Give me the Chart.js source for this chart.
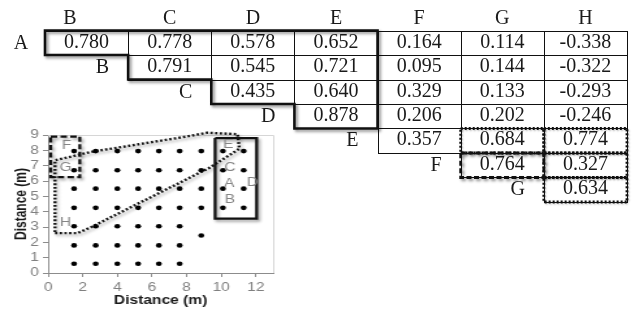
<!DOCTYPE html>
<html>
<head>
<meta charset="utf-8">
<script src="https://cdn.jsdelivr.net/npm/chart.js@4.4.0/dist/chart.umd.min.js"></script>
<style>
  html, body { margin: 0; padding: 0; background: #fff; }
  #wrap { position: relative; width: 633px; height: 312px; overflow: hidden; }
  #tableChart { position: absolute; left: 0; top: 0; }
  #mapChart { position: absolute; left: 0; top: 120px; }
</style>
</head>
<body>
<div id="wrap">
  <canvas id="tableChart" width="633" height="312"></canvas>
  <canvas id="mapChart" width="223" height="192" style="width:290px;height:192px"></canvas>
</div>
<script>
// correlation table (upper triangle)
const colLabels = ['B', 'C', 'D', 'E', 'F', 'G', 'H'];
const rowLabels = ['A', 'B', 'C', 'D', 'E', 'F', 'G'];
const rowA = [0.780, 0.778, 0.578, 0.652, 0.164, 0.114, -0.338];
const rowB = [0.791, 0.545, 0.721, 0.095, 0.144, -0.322];
const rowC = [0.435, 0.640, 0.329, 0.133, -0.293];
const rowD = [0.878, 0.206, 0.202, -0.246];
const rowE = [0.357, 0.684, 0.774];
const rowF = [0.764, 0.327];
const rowG = [0.634];
const corrRows = [rowA, rowB, rowC, rowD, rowE, rowF, rowG];

// sensor positions on the map (m)
const sensorX = [
  1.5, 2.75, 4.0, 5.2, 6.4, 7.6, 8.85, 10.1, 11.3,
  1.5, 2.75, 4.0, 5.2, 6.4, 7.6, 8.85, 10.1, 11.3,
  1.5, 2.75, 4.0, 5.2, 6.4, 7.6, 8.85, 10.1, 11.3,
  1.5, 2.75, 4.0, 5.2, 6.4, 7.6, 8.85, 10.1, 11.3,
  1.5, 2.75, 4.0, 5.2, 6.4, 7.6,
  8.85,
  1.5, 2.75, 4.0, 5.2, 6.4, 7.6,
  1.5, 2.75, 4.0, 5.2, 6.4, 7.6
];
const sensorY = [
  7.95, 7.95, 7.95, 7.95, 7.95, 7.95, 7.95, 7.95, 7.95,
  6.7, 6.7, 6.7, 6.7, 6.7, 6.7, 6.7, 6.7, 6.7,
  5.5, 5.5, 5.5, 5.5, 5.5, 5.5, 5.5, 5.5, 5.5,
  4.25, 4.25, 4.25, 4.25, 4.25, 4.25, 4.25, 4.25, 4.25,
  3.05, 3.05, 3.05, 3.05, 3.05, 3.05,
  2.45,
  1.8, 1.8, 1.8, 1.8, 1.8, 1.8,
  0.6, 0.6, 0.6, 0.6, 0.6, 0.6
];

// group labels on the map
const groupText = ['F', 'G', 'H', 'E', 'C', 'A', 'D', 'B'];
const groupX = [1.06, 1.0, 1.0, 10.4, 10.5, 10.46, 11.8, 10.5];
const groupY = [8.3, 6.9, 3.27, 8.35, 6.9, 5.8, 5.9, 4.75];

// group outlines on the map
const boxFGx = [0.15, 1.83, 1.83, 0.15, 0.15];
const boxFGy = [8.9, 8.9, 6.25, 6.25, 8.9];
const boxAEx = [9.65, 12.05, 12.05, 9.65, 9.65];
const boxAEy = [8.8, 8.8, 3.55, 3.55, 8.8];
const polyHx = [0.4, 1.7, 2.5, 9.3, 11.05, 10.95, 9.2, 8.0, 2.5, 0.4, 0.4];
const polyHy = [2.6, 2.6, 3.0, 6.85, 8.1, 9.05, 9.15, 8.9, 7.9, 7.35, 2.6];

const xAxisTicks = [0, 2, 4, 6, 8, 10, 12];

const toPoints = (xs, ys) => xs.map((v, i) => ({ x: v, y: ys[i] }));

const tablePlugin = {
  id: 'tablePlugin',
  afterDraw(chart) {
    const { ctx } = chart;
    const x = chart.scales.x, y = chart.scales.y;
    const X = v => x.getPixelForValue(v);
    const Y = v => y.getPixelForValue(v);
    const px = v => Math.round(X(v)) + 0.5;
    const py = v => Math.round(Y(v)) + 0.5;

    ctx.save();
    ctx.font = '20px "Liberation Serif", "Times New Roman", serif';
    ctx.fillStyle = '#1a1a1a';
    ctx.textBaseline = 'alphabetic';

    // column headers
    ctx.textAlign = 'center';
    colLabels.forEach((l, c) => {
      const hx = c === 0 ? 0.3 : c + 0.5;
      ctx.fillText(l, X(hx), Y(0) - 7);
    });

    // cells
    ctx.strokeStyle = '#111';
    ctx.lineWidth = 1;
    corrRows.forEach((vals, r) => {
      vals.forEach((v, k) => {
        const c = r + k;
        ctx.strokeRect(px(c), py(r), px(c + 1) - px(c), py(r + 1) - py(r));
        ctx.textAlign = 'center';
        ctx.fillText(v.toFixed(3), X(c + 0.5), Y(r + 1) - 7.5);
      });
      if (r === 0) {
        ctx.textAlign = 'center';
        ctx.fillText(rowLabels[r], X(0) - 24, Y(r + 1) - 6.5);
      } else {
        ctx.textAlign = 'right';
        ctx.fillText(rowLabels[r], X(r) - 19, Y(r + 1) - 6.5);
      }
    });

    // thick outline round the A-E block
    ctx.save();
    ctx.shadowColor = 'rgba(0,0,0,0.45)';
    ctx.shadowBlur = 3;
    ctx.shadowOffsetX = 2;
    ctx.shadowOffsetY = 2;
    ctx.lineWidth = 2.6;
    ctx.lineJoin = 'miter';
    ctx.beginPath();
    ctx.moveTo(X(0), Y(0));
    ctx.lineTo(X(4), Y(0));
    ctx.lineTo(X(4), Y(4));
    ctx.lineTo(X(3), Y(4));
    ctx.lineTo(X(3), Y(3));
    ctx.lineTo(X(2), Y(3));
    ctx.lineTo(X(2), Y(2));
    ctx.lineTo(X(1), Y(2));
    ctx.lineTo(X(1), Y(1));
    ctx.lineTo(X(0), Y(1));
    ctx.closePath();
    ctx.stroke();
    ctx.restore();

    // dotted cells (H group)
    ctx.save();
    ctx.lineWidth = 2.8;
    ctx.setLineDash([2, 2]);
    ctx.shadowColor = 'rgba(0,0,0,0.3)';
    ctx.shadowBlur = 2;
    ctx.shadowOffsetX = 1;
    ctx.shadowOffsetY = 1;
    [[4, 5], [4, 6], [5, 6], [6, 6]].forEach(([r, c]) => {
      ctx.strokeRect(X(c), Y(r), X(c + 1) - X(c), Y(r + 1) - Y(r));
    });
    ctx.restore();

    // dashed cell (F-G)
    ctx.save();
    ctx.lineWidth = 2.8;
    ctx.setLineDash([5, 2.5]);
    ctx.shadowColor = 'rgba(0,0,0,0.45)';
    ctx.shadowBlur = 3;
    ctx.shadowOffsetX = 2;
    ctx.shadowOffsetY = 2;
    ctx.strokeRect(X(5), Y(5), X(6) - X(5), Y(6) - Y(5));
    ctx.restore();

    ctx.restore();
  }
};

new Chart(document.getElementById('tableChart'), {
  type: 'scatter',
  data: { datasets: [] },
  options: {
    responsive: false,
    animation: false,
    devicePixelRatio: 1,
    events: [],
    layout: { padding: 0 },
    plugins: { legend: { display: false }, tooltip: { enabled: false } },
    scales: {
      x: { type: 'linear', display: false, min: -0.5413, max: 7.0724 },
      y: { type: 'linear', display: false, reverse: true, min: -1.2449, max: 11.4898 }
    }
  },
  plugins: [tablePlugin]
});

const mapPlugin = {
  id: 'mapPlugin',
  beforeDatasetDraw(chart, args) {
    const ds = chart.data.datasets[args.index];
    if (ds.shadow) {
      const ctx = chart.ctx;
      ctx.save();
      ctx.shadowColor = 'rgba(0,0,0,0.4)';
      ctx.shadowBlur = 3;
      ctx.shadowOffsetX = 1.5;
      ctx.shadowOffsetY = 2;
    }
  },
  afterDatasetDraw(chart, args) {
    const ds = chart.data.datasets[args.index];
    if (ds.shadow) chart.ctx.restore();
  },
  beforeDatasetsDraw(chart) {
    const { ctx, chartArea: a } = chart;
    ctx.save();
    ctx.strokeStyle = '#d6d6d6';
    ctx.lineWidth = 1;
    ctx.beginPath();
    ctx.moveTo(a.left, Math.round(a.top) + 0.5);
    ctx.lineTo(Math.round(a.right) + 0.5, Math.round(a.top) + 0.5);
    ctx.lineTo(Math.round(a.right) + 0.5, a.bottom);
    ctx.stroke();
    ctx.restore();
  },
  afterDraw(chart) {
    const { ctx } = chart;
    const x = chart.scales.x, y = chart.scales.y;
    ctx.save();
    ctx.font = '12px "Liberation Sans", Arial, sans-serif';
    ctx.fillStyle = '#858585';
    ctx.textAlign = 'center';
    ctx.textBaseline = 'middle';
    groupText.forEach((t, i) => {
      ctx.fillText(t, x.getPixelForValue(groupX[i]), y.getPixelForValue(groupY[i]));
    });
    ctx.restore();
  }
};

const axisFont = { family: '"Liberation Sans", Arial, sans-serif', size: 12 };
const titleFont = { family: '"Liberation Sans", Arial, sans-serif', size: 12, weight: 'bold' };

new Chart(document.getElementById('mapChart'), {
  type: 'scatter',
  data: {
    datasets: [
      {
        label: 'sensors',
        data: toPoints(sensorX, sensorY),
        pointRadius: 2.3,
        pointBackgroundColor: '#000',
        pointBorderWidth: 0
      },
      {
        type: 'line',
        label: 'F-G',
        data: toPoints(boxFGx, boxFGy),
        borderColor: '#111',
        borderWidth: 2.3,
        borderDash: [5, 2.5],
        pointRadius: 0,
        fill: false,
        tension: 0,
        clip: false,
        shadow: true
      },
      {
        type: 'line',
        label: 'A-E',
        data: toPoints(boxAEx, boxAEy),
        borderColor: '#111',
        borderWidth: 2.3,
        pointRadius: 0,
        fill: false,
        tension: 0,
        clip: false,
        shadow: true
      },
      {
        type: 'line',
        label: 'H',
        data: toPoints(polyHx, polyHy),
        borderColor: '#111',
        borderWidth: 2.4,
        borderDash: [1.8, 1.8],
        pointRadius: 0,
        fill: false,
        tension: 0,
        clip: false,
        shadow: true
      }
    ]
  },
  options: {
    responsive: false,
    animation: false,
    devicePixelRatio: 1,
    events: [],
    layout: { padding: { left: 5, right: 13, top: 15, bottom: 0 } },
    plugins: { legend: { display: false }, tooltip: { enabled: false } },
    scales: {
      x: {
        type: 'linear',
        min: 0,
        max: 13,
        afterBuildTicks: s => { s.ticks = xAxisTicks.map(v => ({ value: v })); },
        afterFit: s => { s.height = 39; },
        ticks: { color: '#808080', font: axisFont, padding: 3, maxRotation: 0, autoSkip: false },
        grid: { drawOnChartArea: false, tickLength: 4, color: '#8c8c8c' },
        border: { color: '#8c8c8c' },
        title: { display: true, text: 'Distance (m)', color: '#1a1a1a', font: titleFont, padding: { top: 1, bottom: 4 } }
      },
      y: {
        type: 'linear',
        min: 0,
        max: 9,
        ticks: { stepSize: 1, color: '#808080', font: axisFont, padding: 3, autoSkip: false },
        afterFit: s => { s.width = 32; },
        grid: { drawOnChartArea: false, tickLength: 4, color: '#8c8c8c' },
        border: { color: '#8c8c8c' },
        title: { display: true, text: 'Distance (m)', color: '#1a1a1a', font: titleFont, padding: { top: 4, bottom: 2 } }
      }
    }
  },
  plugins: [mapPlugin]
});
</script>
</body>
</html>
